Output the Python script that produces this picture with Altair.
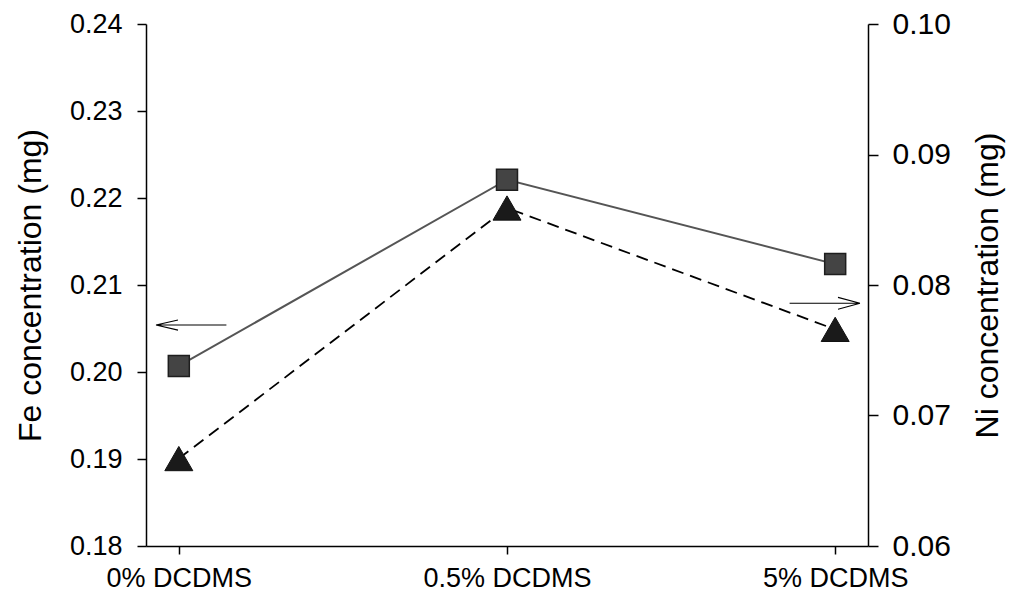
import altair as alt
import pandas as pd

categories = ["0% DCDMS", "0.5% DCDMS", "5% DCDMS"]
fe_values = [0.2007, 0.2221, 0.2124]
ni_values = [0.0667, 0.0859, 0.0766]
fe_ticks = [0.18, 0.19, 0.20, 0.21, 0.22, 0.23, 0.24]
ni_ticks = [0.06, 0.07, 0.08, 0.09, 0.10]
fe_arrow_level = [0.2054]
ni_arrow_level = [0.0786]

FONT = "Liberation Sans"

df = pd.DataFrame({"cat": categories, "fe": fe_values, "ni": ni_values})

x = alt.X(
    "cat:N",
    sort=categories,
    scale=alt.Scale(type="point", padding=0.1),
    axis=alt.Axis(
        title=None, labelAngle=0, labelFontSize=27, labelFont=FONT,
        labelColor="black", tickSize=8, labelPadding=11, grid=False,
        domainColor="black", tickColor="black", domainWidth=1.5, tickWidth=1.5,
    ),
)

fe_y = alt.Y(
    "fe:Q",
    scale=alt.Scale(domain=[0.18, 0.24], nice=False, zero=False),
    axis=alt.Axis(
        title="Fe concentration (mg)", values=fe_ticks, format=".2f", orient="left",
        labelFontSize=27, labelFont=FONT, labelColor="black", tickSize=9,
        labelPadding=15, titleFontSize=32, titleFont=FONT, titleFontWeight="normal",
        titleColor="black", titlePadding=22, grid=False, domainColor="black",
        tickColor="black", domainWidth=1.5, tickWidth=1.5,
    ),
)

ni_y = alt.Y(
    "ni:Q",
    scale=alt.Scale(domain=[0.06, 0.10], nice=False, zero=False),
    axis=alt.Axis(
        title="Ni concentration (mg)", values=ni_ticks, format=".2f", orient="right",
        labelFontSize=30, labelFont=FONT, labelColor="black", tickSize=10,
        labelPadding=14, titleFontSize=32, titleFont=FONT, titleFontWeight="normal",
        titleColor="black", titlePadding=22, titleAngle=270, titleBaseline="top",
        grid=False, domainColor="black",
        tickColor="black", domainWidth=1.5, tickWidth=1.5,
    ),
)

base = alt.Chart(df)

fe_line = base.mark_line(color="#555555", strokeWidth=2).encode(x=x, y=fe_y)
fe_pts = base.mark_point(
    shape="square", filled=True, size=441, fill="#444444", stroke="#1e1e1e",
    strokeWidth=1.5, opacity=1,
).encode(x=x, y=fe_y)

left_arrow = alt.Chart(pd.DataFrame({"fe": fe_arrow_level})).mark_point(
    shape="M0,0L3.2,0M0,0L1,-0.23M0,0L1,0.23", size=1936, filled=False,
    stroke="black", strokeWidth=1.2, opacity=1,
).encode(x=alt.value(10), y=alt.Y("fe:Q"))

ni_line = base.mark_line(color="black", strokeWidth=1.8, strokeDash=[12, 7]).encode(x=x, y=ni_y)
ni_pts = base.mark_point(
    shape="triangle-up", filled=True, size=784, fill="#1a1a1a", stroke="#111111",
    strokeWidth=1, opacity=1,
).encode(x=x, y=ni_y)

right_arrow = alt.Chart(pd.DataFrame({"ni": ni_arrow_level})).mark_point(
    shape="M0,0L-3.2,0M0,0L-1,-0.27M0,0L-1,0.27", size=1936, filled=False,
    stroke="black", strokeWidth=1.2, opacity=1,
).encode(x=alt.value(714), y=alt.Y("ni:Q"))

fe_layer = alt.layer(fe_line, fe_pts, left_arrow)
ni_layer = alt.layer(ni_line, ni_pts, right_arrow)

chart = (
    alt.layer(fe_layer, ni_layer)
    .resolve_scale(y="independent")
    .properties(
        width=722, height=522, background="white",
        padding={"left": 6, "top": 1, "right": 2, "bottom": 2},
    )
    .configure_view(stroke=None)
)

chart.save("out.html", embed_options={"renderer": "svg", "actions": False})
